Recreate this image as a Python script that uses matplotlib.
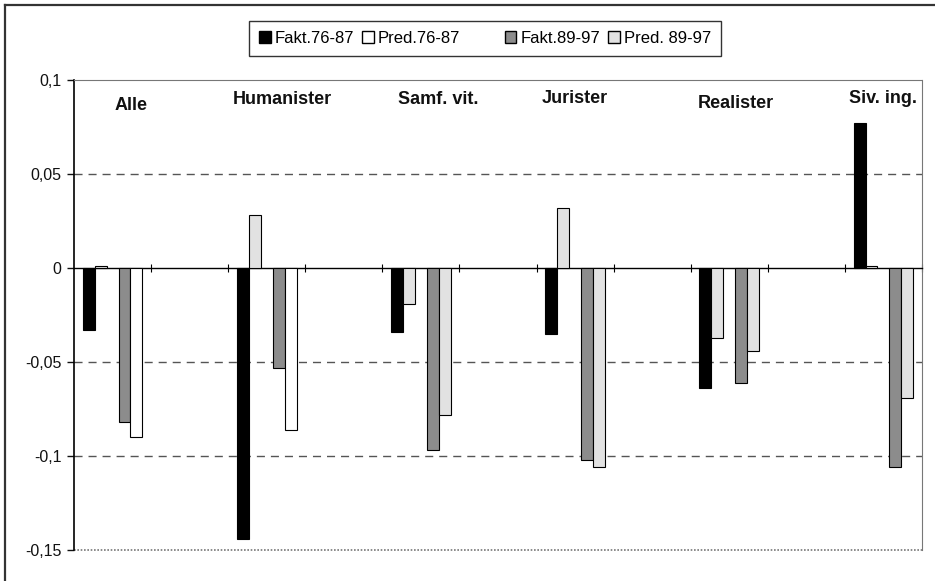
import matplotlib.pyplot as plt
import numpy as np
from matplotlib.lines import Line2D
from matplotlib.patches import Patch
from matplotlib.ticker import FuncFormatter

plt.rcParams['font.family'] = ['Liberation Sans', 'DejaVu Sans']

# data
groups = ['Alle', 'Humanister', 'Samf. vit.', 'Jurister', 'Realister', 'Siv. ing.']
series = ['Fakt.76-87', 'Pred.76-87', 'Fakt.89-97', 'Pred. 89-97']
fakt_76_87 = [-0.033, -0.144, -0.034, -0.035, -0.064, 0.077]
pred_76_87 = [0.001, 0.028, -0.019, 0.032, -0.037, 0.001]
fakt_89_97 = [-0.082, -0.053, -0.097, -0.102, -0.061, -0.106]
pred_89_97 = [-0.090, -0.086, -0.078, -0.106, -0.044, -0.069]
yticks = [-0.15, -0.1, -0.05, 0, 0.05, 0.1]

# styling
light = '#e2e2e2'
mid = '#8c8c8c'
pred89_fill = ['white', 'white', light, light, light, light]
label_dx = [0.24, 0.2, 0.23, 0.0, 0.09, 0.0]
label_y = [0.0866, 0.0898, 0.0898, 0.0903, 0.0877, 0.0903]

fig = plt.figure(figsize=(9.35, 5.81), dpi=100)
ax = fig.add_axes([74 / 935, 1 - 550 / 581, 848 / 935, 470 / 581])

n_cat = 2 * len(groups) - 1
pos = np.arange(len(groups)) * 2
w = 0.155
# 5 slots per category, the middle one is an empty series
ax.bar(pos - 2 * w, fakt_76_87, w, color='black', edgecolor='black', lw=0.8, zorder=3)
ax.bar(pos - w, pred_76_87, w, color=light, edgecolor='black', lw=0.8, zorder=3)
ax.bar(pos + w, fakt_89_97, w, color=mid, edgecolor='black', lw=0.8, zorder=3)
ax.bar(pos + 2 * w, pred_89_97, w, color=pred89_fill, edgecolor='black', lw=0.8, zorder=3)

for i, g in enumerate(groups):
    ax.text(pos[i] + label_dx[i], label_y[i], g, ha='center', va='center',
            fontsize=13, fontweight='bold', color='#111111')

ax.set_xlim(-0.5, n_cat - 0.5)
ax.set_ylim(-0.15, 0.1)
ax.set_yticks(yticks)
ax.yaxis.set_major_formatter(FuncFormatter(lambda v, p: ('%g' % round(v, 3)).replace('.', ',')))
ax.tick_params(axis='y', direction='out', length=5, width=1, labelsize=11.5, pad=4, colors='#111111')

# x axis sits on zero with ticks at category boundaries
ax.spines['bottom'].set_position(('data', 0))
ax.set_xticks(np.arange(n_cat) + 0.5)
ax.set_xticklabels([])
ax.tick_params(axis='x', direction='inout', length=6, width=0.8)
ax.spines['left'].set_linewidth(1.2)
ax.spines['bottom'].set_linewidth(1.0)
for s in ['top', 'right']:
    ax.spines[s].set_linestyle((0, (1, 1)))
    ax.spines[s].set_color('#777777')
ax.axhline(-0.15, color='#777777', lw=1.2, ls=(0, (1, 1)), clip_on=False)

for y in [0.05, -0.05, -0.1]:
    ax.axhline(y, color='#555555', lw=1, ls=(0, (5.8, 4.3)), zorder=1)

# legend with an empty third entry
handles = [Patch(facecolor='black', edgecolor='black'),
           Patch(facecolor='white', edgecolor='black'),
           Patch(facecolor='none', edgecolor='none'),
           Patch(facecolor=mid, edgecolor='black'),
           Patch(facecolor=light, edgecolor='black')]
labels = [series[0], series[1], '   ', series[2], series[3]]
leg = fig.legend(handles, labels, ncol=5, loc='center',
                 bbox_to_anchor=(485 / 935, 1 - 38.5 / 581), fontsize=12,
                 frameon=True, fancybox=False, edgecolor='black',
                 handlelength=0.7, handleheight=0.7, handletextpad=0.25,
                 columnspacing=0.45, borderpad=0.6)
leg.get_frame().set_linewidth(1.0)

# outer chart frame (cropped on right and bottom)
fig.add_artist(Line2D([5 / 935, 5 / 935], [0, 1 - 5 / 581], color='#333333', lw=1.6))
fig.add_artist(Line2D([5 / 935, 1], [1 - 5 / 581, 1 - 5 / 581], color='#333333', lw=1.6))

fig.savefig('out.png', dpi=100)
